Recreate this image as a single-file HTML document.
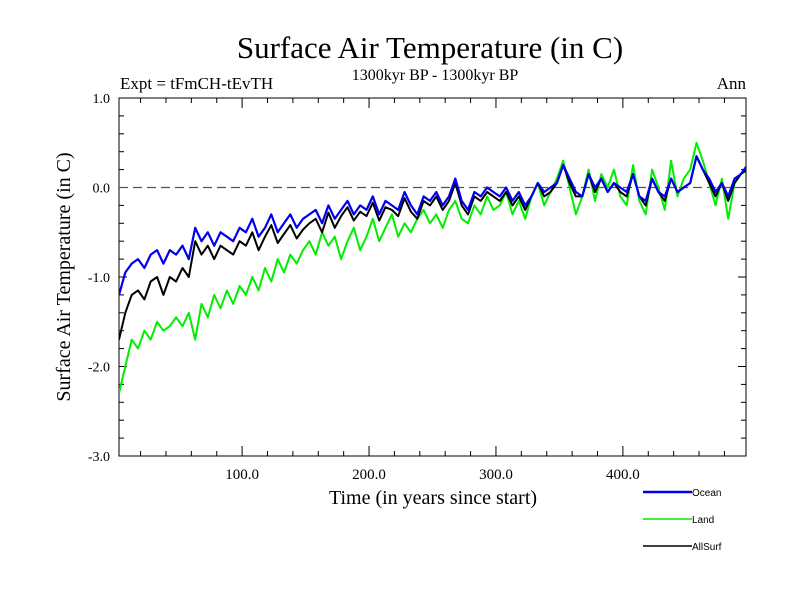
<!DOCTYPE html>
<html><head><meta charset="utf-8"><style>body{margin:0;background:#fff}svg{display:block}text{font-family:"Liberation Serif",serif}text.sans{font-family:"Liberation Sans",sans-serif}</style></head>
<body>
<svg id="chart" width="800" height="600" xmlns="http://www.w3.org/2000/svg">
<text x="430" y="58" font-size="31" text-anchor="middle">Surface Air Temperature (in C)</text>
<text x="120" y="89" font-size="17">Expt = tFmCH-tEvTH</text>
<text x="435" y="80" font-size="16" text-anchor="middle">1300kyr BP - 1300kyr BP</text>
<text x="746" y="89" font-size="17" text-anchor="end">Ann</text>
<text transform="translate(70,277) rotate(-90)" font-size="20" text-anchor="middle">Surface Air Temperature (in C)</text>
<text x="433" y="504" font-size="20" text-anchor="middle">Time (in years since start)</text>
<defs><clipPath id="pc"><rect x="119" y="98" width="627" height="358"/></clipPath></defs>
<g id="axes"></g>
<g id="series" clip-path="url(#pc)"></g>
<g id="legend"></g>
</svg>
<script>
const yTicks=[1.0,0.0,-1.0,-2.0,-3.0];
const yTickLabels=["1.0","0.0","-1.0","-2.0","-3.0"];
const xTicks=[100,200,300,400];
const xTickLabels=["100.0","200.0","300.0","400.0"];
const yearStart=3, yearStep=5;
const ocean=[-1.2,-0.95,-0.85,-0.8,-0.9,-0.75,-0.7,-0.85,-0.7,-0.75,
-0.65,-0.8,-0.45,-0.6,-0.5,-0.65,-0.5,-0.55,-0.6,-0.45,
-0.5,-0.35,-0.55,-0.45,-0.3,-0.5,-0.4,-0.3,-0.45,-0.35,
-0.3,-0.25,-0.4,-0.2,-0.35,-0.25,-0.15,-0.3,-0.2,-0.25,
-0.1,-0.3,-0.15,-0.2,-0.25,-0.05,-0.2,-0.3,-0.1,-0.15,
-0.05,-0.2,-0.1,0.1,-0.15,-0.25,-0.05,-0.1,0.0,-0.05,
-0.1,0.0,-0.15,-0.05,-0.2,-0.1,0.05,-0.05,0.0,0.05,
0.25,0.1,-0.05,-0.1,0.15,0.0,0.1,-0.05,0.05,0.0,
-0.05,0.15,-0.1,-0.15,0.1,-0.05,-0.1,0.1,-0.05,0.0,
0.05,0.35,0.2,0.1,-0.05,0.05,-0.1,0.1,0.15,0.25];
const land=[-2.3,-2.0,-1.7,-1.8,-1.6,-1.7,-1.5,-1.6,-1.55,-1.45,
-1.55,-1.4,-1.7,-1.3,-1.45,-1.2,-1.35,-1.15,-1.3,-1.1,
-1.2,-1.0,-1.15,-0.9,-1.05,-0.8,-0.95,-0.75,-0.85,-0.7,
-0.6,-0.75,-0.5,-0.65,-0.55,-0.8,-0.6,-0.45,-0.7,-0.55,
-0.35,-0.6,-0.45,-0.3,-0.55,-0.4,-0.5,-0.35,-0.25,-0.4,
-0.3,-0.45,-0.25,-0.15,-0.35,-0.4,-0.2,-0.3,-0.1,-0.25,
-0.2,-0.05,-0.3,-0.15,-0.35,-0.1,0.05,-0.2,-0.05,0.1,
0.3,0.0,-0.3,-0.1,0.2,-0.15,0.15,0.0,0.2,-0.1,
-0.2,0.25,-0.15,-0.3,0.2,0.0,-0.25,0.3,-0.1,0.1,
0.2,0.5,0.3,0.05,-0.2,0.1,-0.35,0.05,0.15,0.2];
const allSurf=[-1.7,-1.4,-1.2,-1.15,-1.25,-1.05,-1.0,-1.2,-1.0,-1.05,
-0.9,-1.0,-0.6,-0.75,-0.65,-0.8,-0.65,-0.7,-0.75,-0.6,
-0.65,-0.5,-0.7,-0.55,-0.42,-0.62,-0.52,-0.42,-0.57,-0.47,
-0.4,-0.35,-0.5,-0.28,-0.45,-0.32,-0.22,-0.37,-0.27,-0.32,
-0.17,-0.37,-0.22,-0.25,-0.32,-0.12,-0.27,-0.35,-0.15,-0.2,
-0.1,-0.25,-0.15,0.05,-0.2,-0.3,-0.1,-0.15,-0.05,-0.1,
-0.15,-0.05,-0.2,-0.1,-0.25,-0.1,0.05,-0.1,-0.05,0.05,
0.25,0.05,-0.1,-0.1,0.15,-0.05,0.1,-0.05,0.05,-0.05,
-0.1,0.15,-0.1,-0.2,0.1,-0.05,-0.15,0.1,-0.05,0.0,
0.05,0.35,0.2,0.05,-0.1,0.05,-0.15,0.05,0.15,0.2];
const NS="http://www.w3.org/2000/svg";
const X0=119,X1=746,XMIN=3,XMAX=497,Y0=98,Y1=456,YMIN=-3,YMAX=1;
function xs(v){return X0+(v-XMIN)/(XMAX-XMIN)*(X1-X0);}
function ys(v){return Y0+(YMAX-v)/(YMAX-YMIN)*(Y1-Y0);}
function mk(tag,attrs,parent){const e=document.createElementNS(NS,tag);for(const k in attrs)e.setAttribute(k,attrs[k]);parent.appendChild(e);return e;}
const axes=document.getElementById('axes');
const frame=mk('rect',{x:X0,y:Y0,width:X1-X0,height:Y1-Y0,fill:'none',stroke:'#000','stroke-width':1},axes);


for(let v=-3;v<=1.0001;v+=0.2){const major=Math.abs(v-Math.round(v))<1e-6;const L=major?8:5;
 mk('line',{x1:X0,x2:X0+L,y1:ys(v),y2:ys(v),stroke:'#000'},axes);
 mk('line',{x1:X1,x2:X1-L,y1:ys(v),y2:ys(v),stroke:'#000'},axes);}
for(let v=20;v<=480;v+=20){const major=v%100===0;const L=major?10:5;
 mk('line',{x1:xs(v),x2:xs(v),y1:Y1,y2:Y1-L,stroke:'#000'},axes);
 mk('line',{x1:xs(v),x2:xs(v),y1:Y0,y2:Y0+L,stroke:'#000'},axes);}
yTicks.forEach((v,i)=>{const t=mk('text',{x:110,y:ys(v)+5,'font-size':14,'text-anchor':'end'},axes);t.textContent=yTickLabels[i];
 
 });
xTicks.forEach((v,i)=>{const t=mk('text',{x:xs(v),y:479,'font-size':15,'text-anchor':'middle'},axes);t.textContent=xTickLabels[i];
 
 });
const zl=mk('line',{x1:X0,x2:X1,y1:ys(0),y2:ys(0),stroke:'#555','stroke-width':1.3,'stroke-dasharray':'9,5'},axes);


const sg=document.getElementById('series');
function line(vals,color,w,name){const pts=vals.map((v,i)=>xs(yearStart+i*yearStep).toFixed(1)+','+ys(v).toFixed(1)).join(' ');
 const p=mk('polyline',{points:pts,fill:'none',stroke:color,'stroke-width':w,'stroke-linejoin':'round'},sg);
 
 }
line(land,'#00ee00',2,'land-series');
line(allSurf,'#000000',2,'allsurf-series');
line(ocean,'#0000ee',2.2,'ocean-series');
const lg=document.getElementById('legend');
[['Ocean','#0000ee',492,2.5],['Land','#00ee00',519,1.5],['AllSurf','#000',546,1.5]].forEach(d=>{
 const l=mk('line',{x1:643,x2:692,y1:d[2],y2:d[2],stroke:d[1],'stroke-width':d[3]},lg);
 
 
 const t=mk('text',{x:692,y:d[2]+4,'font-size':10,'class':'sans'},lg);t.textContent=d[0];
 
 });
</script>
</body></html>
